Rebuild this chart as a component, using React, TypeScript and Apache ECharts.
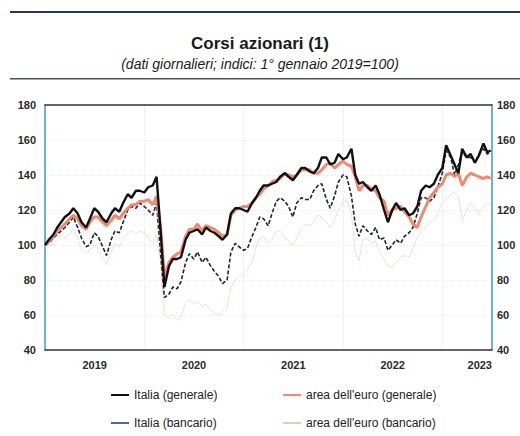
import React, { useEffect, useRef } from "react";
import * as echarts from "echarts";

const dates = [
  "2019-01-01","2019-01-15","2019-02-01","2019-02-15","2019-03-01","2019-03-15","2019-04-01","2019-04-15","2019-05-01","2019-05-15","2019-06-01","2019-06-15",
  "2019-07-01","2019-07-15","2019-08-01","2019-08-15","2019-09-01","2019-09-15","2019-10-01","2019-10-15","2019-11-01","2019-11-15","2019-12-01","2019-12-15",
  "2020-01-01","2020-01-15","2020-02-01","2020-02-15","2020-03-01","2020-03-15","2020-04-01","2020-04-15","2020-05-01","2020-05-15","2020-06-01","2020-06-15",
  "2020-07-01","2020-07-15","2020-08-01","2020-08-15","2020-09-01","2020-09-15","2020-10-01","2020-10-15","2020-11-01","2020-11-15","2020-12-01","2020-12-15",
  "2021-01-01","2021-01-15","2021-02-01","2021-02-15","2021-03-01","2021-03-15","2021-04-01","2021-04-15","2021-05-01","2021-05-15","2021-06-01","2021-06-15",
  "2021-07-01","2021-07-15","2021-08-01","2021-08-15","2021-09-01","2021-09-15","2021-10-01","2021-10-15","2021-11-01","2021-11-15","2021-12-01","2021-12-15",
  "2022-01-01","2022-01-15","2022-02-01","2022-02-15","2022-03-01","2022-03-15","2022-04-01","2022-04-15","2022-05-01","2022-05-15","2022-06-01","2022-06-15",
  "2022-07-01","2022-07-15","2022-08-01","2022-08-15","2022-09-01","2022-09-15","2022-10-01","2022-10-15","2022-11-01","2022-11-15","2022-12-01","2022-12-15",
  "2023-01-01","2023-01-15","2023-02-01","2023-02-15","2023-03-01","2023-03-15","2023-04-01","2023-04-15","2023-05-01","2023-05-15","2023-06-01","2023-06-15",
  "2023-06-28",
];

const italiaGenerale = [
  100,103,106,110,113,116,118,121,118,113,110,115,
  121,119,115,113,118,121,119,124,129,127,131,131,
  130,133,134,139,108,76,88,92,92,93,103,107,
  108,109,106,110,108,107,105,103,106,118,121,121,
  120,119,124,127,131,134,134,135,136,139,141,139,
  137,140,144,144,142,141,144,150,150,146,147,152,
  149,150,155,140,135,136,133,131,134,129,120,113,
  120,124,120,121,117,118,122,131,134,133,135,140,
  144,157,151,146,141,155,150,152,147,151,158,153,
  154,
];

const euroGenerale = [
  100,102,105,108,110,112,115,117,115,111,109,113,
  116,116,113,111,114,117,115,118,121,123,123,125,
  125,126,123,128,110,82,90,93,95,96,105,109,
  109,112,108,111,110,109,107,105,106,117,120,121,
  122,122,124,127,129,132,134,136,137,138,141,140,
  139,140,143,143,143,141,141,143,146,147,144,146,
  148,146,145,139,131,134,134,132,131,127,125,117,
  120,121,122,119,116,112,110,116,122,127,130,133,
  135,140,141,139,141,134,139,141,140,139,138,139,
  138,
];

const italiaBancario = [
  100,101,104,106,108,110,113,116,110,104,99,100,
  107,105,99,94,103,108,107,113,120,122,121,124,
  122,120,117,124,95,70,72,76,75,79,90,95,
  92,96,90,93,88,85,82,78,80,96,101,99,
  97,98,105,110,116,115,111,118,125,127,125,122,
  116,124,127,126,126,131,134,135,126,121,128,136,
  140,139,128,112,105,111,108,106,110,103,104,97,
  100,103,101,105,107,110,118,127,127,125,127,133,
  141,154,150,140,146,153,150,150,147,152,155,152,
  153,
];

const euroBancario = [
  100,99,101,103,106,104,106,109,104,98,95,97,
  100,98,92,89,96,101,99,103,107,108,106,108,
  107,104,101,106,90,60,58,60,57,59,67,69,
  66,68,65,66,63,61,60,62,64,76,80,82,
  84,86,90,98,104,105,101,103,108,108,104,102,
  100,104,110,112,111,113,117,116,113,110,114,120,
  124,126,118,96,91,103,104,101,102,96,92,88,
  87,90,93,94,93,98,104,108,110,113,114,118,
  124,126,129,130,128,114,120,124,121,118,122,124,
  123,
];

const seriesNames = [
  "Italia (generale)",
  "area dell'euro (generale)",
  "Italia (bancario)",
  "area dell'euro (bancario)",
];
const yearLabels = ["2019", "2020", "2021", "2022", "2023"];
const yTicks = [40, 60, 80, 100, 120, 140, 160, 180];

function toYear(d: string): number {
  const [y, m, day] = d.split("-").map(Number);
  const start = Date.UTC(y, 0, 1);
  const end = Date.UTC(y + 1, 0, 1);
  return y + (Date.UTC(y, m - 1, day) - start) / (end - start);
}

function pairs(values: number[]) {
  return values.map((v, i) => [toYear(dates[i]), v]);
}

export default function App() {
  const ref = useRef<HTMLDivElement>(null);
  useEffect(() => {
    if (!ref.current) return;
    const chart = echarts.init(ref.current, undefined, { renderer: "svg" });
    const font = "'Liberation Sans', Arial, sans-serif";
    const xMin = Number(yearLabels[0]);
    const xMax = Number(yearLabels[yearLabels.length - 1]) + 0.5;
    const yAxisCommon = {
      type: "value" as const,
      min: yTicks[0],
      max: yTicks[yTicks.length - 1],
      interval: 20,
      axisLine: { show: true, lineStyle: { color: "#3d9cc4", width: 1.5 } },
      axisTick: { show: false },
      splitLine: { show: false },
      axisLabel: { color: "#2a2a2a", fontSize: 11, fontWeight: "bold" as const, fontFamily: font },
    };
    const legendCommon = {
      orient: "vertical" as const,
      top: 384,
      itemGap: 16,
      itemWidth: 18,
      itemHeight: 2,
      icon: "rect",
      textStyle: { fontFamily: font, fontSize: 12, color: "#222" },
    };
    chart.setOption({
      animation: false,
      backgroundColor: "#ffffff",
      grid: { left: 45, right: 28, top: 105, bottom: 86 },
      title: [
        {
          text: "Corsi azionari (1)",
          left: "center",
          top: 30,
          textStyle: { fontFamily: font, fontSize: 17, fontWeight: "bold", color: "#1a1a1a" },
        },
        {
          text: "(dati giornalieri; indici: 1° gennaio 2019=100)",
          left: "center",
          top: 52,
          textStyle: { fontFamily: font, fontSize: 14, fontStyle: "italic", fontWeight: "normal", color: "#1a1a1a" },
        },
      ],
      graphic: {
        elements: [
          {
            type: "rect",
            left: 10,
            top: 11,
            shape: { width: 510, height: 2 },
            style: { fill: "#2b3650" },
            z: 100,
          },
          {
            type: "rect",
            left: 10,
            top: 78,
            shape: { width: 510, height: 1.5 },
            style: { fill: "#4a4f58" },
            z: 100,
          },
        ],
      },
      xAxis: [
        {
          type: "value",
          min: xMin,
          max: xMax,
          interval: 0.5,
          position: "bottom",
          axisLine: { show: true, onZero: false, lineStyle: { color: "#333", width: 1.5 } },
          axisTick: { show: false },
          splitLine: { show: false },
          axisLabel: {
            color: "#2a2a2a",
            fontSize: 11,
            fontWeight: "bold",
            fontFamily: font,
            margin: 9,
            showMinLabel: true,
            showMaxLabel: true,
            alignMaxLabel: "right",
            formatter: (v: number) => {
              const f = Math.round((v - Math.floor(v)) * 10);
              return f === 5 ? String(Math.floor(v)) : "";
            },
          },
        },
        {
          type: "value",
          min: xMin,
          max: xMax,
          interval: 1,
          position: "top",
          axisLine: { show: true, onZero: false, lineStyle: { color: "#333", width: 1.5 } },
          axisTick: { show: false },
          axisLabel: { show: false },
          splitLine: { show: true, lineStyle: { color: "#e4e4e4", type: "dotted", width: 1 } },
        },
      ],
      yAxis: [
        {
          ...yAxisCommon,
          position: "left",
          axisLabel: { ...yAxisCommon.axisLabel, margin: 9 },
          splitLine: { show: true, lineStyle: { color: "#ececec", type: "dotted", width: 1 } },
        },
        { ...yAxisCommon, position: "right", axisLabel: { ...yAxisCommon.axisLabel, margin: 5 } },
      ],
      legend: [
        { ...legendCommon, left: 106, data: [seriesNames[0], seriesNames[2]] },
        { ...legendCommon, left: 278, data: [seriesNames[1], seriesNames[3]] },
      ],
      series: [
        {
          name: seriesNames[3],
          type: "line",
          data: pairs(euroBancario),
          symbol: "none",
          z: 1,
          lineStyle: { color: "#f2b9a6", width: 1, type: "dotted" },
          itemStyle: { color: "#f2c4b4" },
        },
        {
          name: seriesNames[2],
          type: "line",
          data: pairs(italiaBancario),
          symbol: "none",
          z: 2,
          lineStyle: { color: "#1e2536", width: 1.6, type: [4, 2] },
          itemStyle: { color: "#4a6a9a" },
        },
        {
          name: seriesNames[1],
          type: "line",
          data: pairs(euroGenerale),
          symbol: "none",
          z: 3,
          lineStyle: { color: "#ef8a72", width: 3 },
          itemStyle: { color: "#ef8a72" },
        },
        {
          name: seriesNames[0],
          type: "line",
          data: pairs(italiaGenerale),
          symbol: "none",
          z: 4,
          lineStyle: { color: "#111111", width: 2.4 },
          itemStyle: { color: "#111111" },
        },
      ],
    });
    return () => chart.dispose();
  }, []);
  return <div ref={ref} style={{ position: "fixed", left: 0, top: 0, width: 520, height: 436 }} />;
}
